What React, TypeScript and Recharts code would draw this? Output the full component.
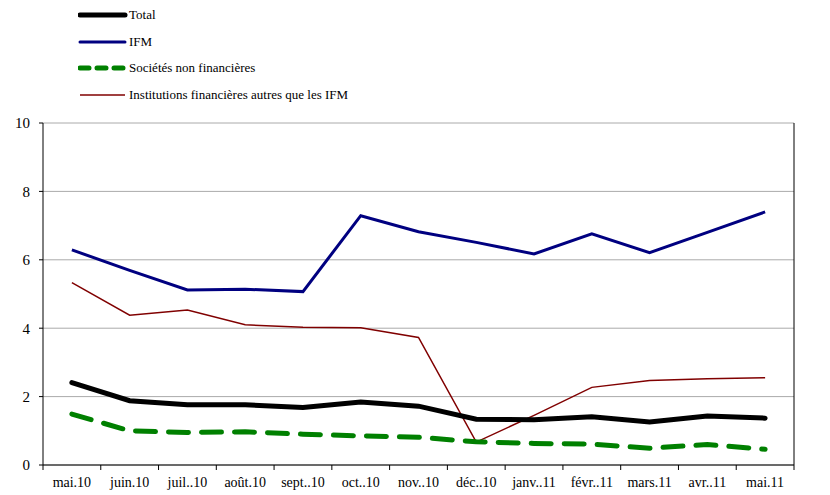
import React from "react";
import { LineChart, Line, XAxis, YAxis, CartesianGrid } from "recharts";

// Months shown on the x axis
const MONTHS = [
  "mai.10", "juin.10", "juil..10", "août.10", "sept..10", "oct..10", "nov..10",
  "déc..10", "janv..11", "févr..11", "mars.11", "avr..11", "mai.11",
];

const TOTAL = [2.41, 1.88, 1.76, 1.76, 1.68, 1.84, 1.72, 1.34, 1.32, 1.41, 1.26, 1.43, 1.37];
const IFM = [6.29, 5.69, 5.12, 5.14, 5.07, 7.29, 6.82, 6.51, 6.17, 6.76, 6.21, 6.8, 7.4];
const SNF = [1.49, 1.0, 0.95, 0.97, 0.9, 0.85, 0.81, 0.68, 0.63, 0.61, 0.49, 0.6, 0.46];
const IFAUTRES = [5.33, 4.38, 4.53, 4.1, 4.03, 4.01, 3.73, 0.67, 1.45, 2.27, 2.47, 2.52, 2.55];

const Y_TICKS = [0, 2, 4, 6, 8, 10];

const data = MONTHS.map((m, i) => ({
  month: m,
  total: TOTAL[i],
  ifm: IFM[i],
  snf: SNF[i],
  autres: IFAUTRES[i],
}));

const W = 830;
const H = 495;
const LEFT_W = 43;
const RIGHT_W = 36;
const TOP = 123;
const BOTTOM_H = 30;
const BAND = (W - LEFT_W - RIGHT_W) / MONTHS.length;
const X_TICK_SIZE = 5;
const X_TICK_MARGIN = 7;
const FONT = "Times New Roman, Liberation Serif, DejaVu Serif, serif";

// label centred in the band, tick mark on the band boundary
function MonthTick(props: any) {
  const { x, y, payload, index } = props;
  const axisY = y - X_TICK_SIZE - X_TICK_MARGIN;
  const left = x - BAND / 2;
  return (
    <g>
      <line x1={left} x2={left} y1={axisY} y2={axisY + X_TICK_SIZE} stroke="#000" />
      {index === MONTHS.length - 1 && (
        <line x1={x + BAND / 2} x2={x + BAND / 2} y1={axisY} y2={axisY + X_TICK_SIZE} stroke="#000" />
      )}
      <text x={x} y={y} dy="0.71em" textAnchor="middle" fontSize={14} fontFamily={FONT} fill="#000">
        {payload.value}
      </text>
    </g>
  );
}

const LEGEND = [
  { label: "Total", color: "#000000", width: 5, dash: undefined as string | undefined },
  { label: "IFM", color: "#000080", width: 3, dash: undefined },
  { label: "Sociétés non financières", color: "#008000", width: 5, dash: "9 8" },
  { label: "Institutions financières autres que les IFM", color: "#800000", width: 1.5, dash: undefined },
];

function Legend() {
  return (
    <div style={{ position: "absolute", left: 78, top: 2, fontFamily: FONT, fontSize: 13 }}>
      {LEGEND.map((l) => (
        <div key={l.label} style={{ display: "flex", alignItems: "center", height: 26.5 }}>
          <svg width={50} height={10} style={{ marginRight: 1 }}>
            <line
              x1={2}
              x2={47}
              y1={5}
              y2={5}
              stroke={l.color}
              strokeWidth={l.width}
              strokeDasharray={l.dash}
              strokeLinecap={l.width >= 3 ? "round" : "butt"}
            />
          </svg>
          <span>{l.label}</span>
        </div>
      ))}
    </div>
  );
}

export default function App() {
  const tickStyle = { fontSize: 15, fontFamily: FONT, fill: "#000" };
  return (
    <div style={{ position: "absolute", left: 0, top: 0, width: W, height: H, background: "#fff" }}>
      <Legend />
      <LineChart width={W} height={H} data={data} margin={{ top: TOP, right: 0, bottom: 0, left: 0 }}>
        <CartesianGrid vertical={false} stroke="#aaaaaa" yAxisId="left" />
        <XAxis
          dataKey="month"
          height={BOTTOM_H}
          padding={{ left: BAND / 2, right: BAND / 2 }}
          axisLine={{ stroke: "#000" }}
          tickLine={false}
          tickSize={X_TICK_SIZE}
          tickMargin={X_TICK_MARGIN}
          interval={0}
          tick={<MonthTick />}
        />
        <YAxis
          yAxisId="left"
          width={LEFT_W}
          domain={[0, 10]}
          ticks={Y_TICKS}
          axisLine={{ stroke: "#000" }}
          tickLine={{ stroke: "#000" }}
          tickSize={4}
          tickMargin={9}
          tick={tickStyle}
        />
        <YAxis
          yAxisId="right"
          orientation="right"
          width={RIGHT_W}
          domain={[0, 10]}
          ticks={Y_TICKS}
          axisLine={{ stroke: "#000" }}
          tickLine={{ stroke: "#000" }}
          tickSize={5}
          tickMargin={9}
          tick={tickStyle}
        />
        <Line yAxisId="left" dataKey="autres" stroke="#800000" strokeWidth={1.5} dot={false} isAnimationActive={false} />
        <Line yAxisId="left" dataKey="ifm" stroke="#000080" strokeWidth={3} dot={false} isAnimationActive={false} />
        <Line
          yAxisId="left"
          dataKey="snf"
          stroke="#008000"
          strokeWidth={5}
          strokeDasharray="20 13"
          strokeLinecap="round"
          dot={false}
          isAnimationActive={false}
        />
        <Line
          yAxisId="left"
          dataKey="total"
          stroke="#000000"
          strokeWidth={5}
          strokeLinecap="round"
          dot={false}
          isAnimationActive={false}
        />
      </LineChart>
    </div>
  );
}
